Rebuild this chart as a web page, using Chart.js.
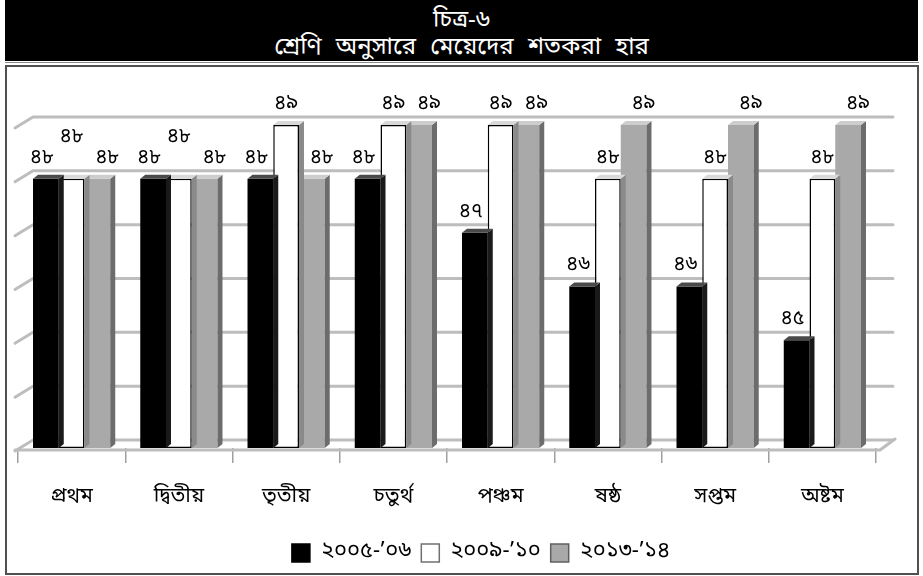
<!DOCTYPE html>
<html>
<head>
<meta charset="utf-8">
<title>চিত্র-৬</title>
<script src="https://cdn.jsdelivr.net/npm/chart.js@4/dist/chart.umd.min.js"></script>
<style>
  html, body { margin: 0; padding: 0; background: #fff; }
  #wrap { position: relative; width: 923px; height: 576px; overflow: hidden;
          font-family: "Noto Sans Bengali", "Noto Serif Bengali", "Lohit Bengali", "FreeSerif", "Noto Sans", sans-serif; }
  #head { position: absolute; left: 5px; top: 0; width: 913px; height: 61px; background: #000; color: #fff; text-align: center; }
  #head div { position: absolute; left: 0; right: 0; font-size: 24px; line-height: 28px; }
  #head .t1 { top: 7px; }
  #head .t2 { top: 34px; word-spacing: 8px; }
  #rule { position: absolute; left: 5px; top: 62px; width: 914px; height: 1px; background: #8a8a8a; }
  #box { position: absolute; left: 5px; top: 65px; width: 914px; height: 510px; box-sizing: border-box; border: 2px solid #505050; }
  #chart { position: absolute; left: 0; top: 0; }
</style>
</head>
<body>
<div id="wrap">
  <div id="head">
    <div class="t1">চিত্র-৬</div>
    <div class="t2">শ্রেণি অনুসারে মেয়েদের শতকরা হার</div>
  </div>
  <div id="rule"></div>
  <div id="box"></div>
  <canvas id="chart" width="923" height="576"></canvas>
</div>
<script>
// Classes (x categories)
const categories = ['প্রথম', 'দ্বিতীয়', 'তৃতীয়', 'চতুর্থ', 'পঞ্চম', 'ষষ্ঠ', 'সপ্তম', 'অষ্টম'];
// Survey years
const seriesNames = ['২০০৫-’০৬', '২০০৯-’১০', '২০১৩-’১৪'];
// Share of girls (%) per class
const values2005 = [48, 48, 48, 48, 47, 46, 46, 45];
const values2009 = [48, 48, 49, 49, 49, 48, 48, 48];
const values2013 = [48, 48, 48, 49, 49, 49, 49, 49];
// Value axis range
const axisMin = 43;
const axisMax = 49;

const FONT = '"Noto Sans Bengali", "Noto Serif Bengali", "Lohit Bengali", "FreeSerif", "Noto Sans", sans-serif';
const BN_DIGITS = '০১২৩৪৫৬৭৮৯';
const toBn = v => String(v).replace(/[0-9]/g, d => BN_DIGITS[+d]);

// Colours of the front, top and side faces of each series' columns
const faceStyles = [
  { front: '#000000', top: '#4a4a4a', side: '#1a1a1a' },
  { front: '#ffffff', top: '#d9d9d9', side: '#8a8a8a' },
  { front: '#a9a9a9', top: '#cdcdcd', side: '#6c6c6c' }
];
const DX = 5, DY = 4;

// Back wall, left wall and floor of the pseudo-3D plot box
const wallPlugin = {
  id: 'wall',
  beforeDatasetsDraw(chart) {
    const { ctx, chartArea: { left, right, bottom }, scales: { y } } = chart;
    const values = [];
    for (let v = y.min; v <= y.max; v += 1) values.push(v);
    ctx.save();
    ctx.lineCap = 'round';
    ctx.lineJoin = 'round';
    ctx.strokeStyle = '#bdbdbd';
    ctx.lineWidth = 3;
    values.forEach(v => {
      const py = y.getPixelForValue(v);
      ctx.beginPath();
      ctx.moveTo(left - 3, py + 3);
      ctx.lineTo(left + 15, py - 8);
      ctx.lineTo(right + 17, py - 8);
      ctx.stroke();
    });
    const fy = bottom + 2;
    ctx.beginPath();
    ctx.moveTo(left - 3, fy);
    ctx.lineTo(right + 4, fy);
    ctx.lineTo(right + 19, fy - 11);
    ctx.stroke();
    ctx.restore();
  }
};

// Top and side faces drawn after each series so the next one overlaps them
const columnFacesPlugin = {
  id: 'columnFaces',
  afterDatasetDraw(chart, args) {
    const ctx = chart.ctx;
    const st = faceStyles[args.index];
    const floor = chart.chartArea.bottom;
    const poly = pts => {
      ctx.beginPath();
      ctx.moveTo(pts[0][0], pts[0][1]);
      for (let k = 1; k < pts.length; k++) ctx.lineTo(pts[k][0], pts[k][1]);
      ctx.closePath();
      ctx.fill();
    };
    ctx.save();
    args.meta.data.forEach(bar => {
      const l = bar.x - bar.width / 2, r = bar.x + bar.width / 2, t = bar.y;
      const b = Math.min(bar.base, floor);
      ctx.fillStyle = st.side;
      poly([[r, t], [r + DX, t - DY], [r + DX, b - DY], [r, b]]);
      ctx.fillStyle = st.top;
      poly([[l, t], [r, t], [r + DX, t - DY], [l + DX, t - DY]]);
    });
    ctx.restore();
  }
};

// Value labels above the columns
const valueLabelPlugin = {
  id: 'valueLabels',
  afterDatasetsDraw(chart) {
    const ctx = chart.ctx;
    ctx.save();
    ctx.font = '20px ' + FONT;
    ctx.fillStyle = '#000';
    ctx.textAlign = 'center';
    ctx.textBaseline = 'middle';
    const sets = chart.data.datasets;
    sets.forEach((ds, i) => {
      chart.getDatasetMeta(i).data.forEach((bar, j) => {
        let x = bar.x;
        let y = bar.y - 20;
        if (i === 0) x -= 4;
        if (i === 2) x += 10;
        if (i === 1 && ds.data[j] === sets[0].data[j]) y -= 21;
        ctx.fillText(toBn(ds.data[j]), x, y);
      });
    });
    ctx.restore();
  }
};

// Legend sits a little right of the plot centre
const legendShiftPlugin = {
  id: 'legendShift',
  afterLayout(chart) {
    chart.legend.left += 34;
    chart.legend.right += 34;
  }
};

Chart.defaults.font.family = FONT;

new Chart(document.getElementById('chart'), {
  type: 'bar',
  data: {
    labels: categories,
    datasets: [
      { label: seriesNames[0], data: values2005, backgroundColor: faceStyles[0].front, borderWidth: 0 },
      { label: seriesNames[1], data: values2009, backgroundColor: faceStyles[1].front, borderColor: '#000', borderWidth: 1.5, borderSkipped: false },
      { label: seriesNames[2], data: values2013, backgroundColor: faceStyles[2].front, borderWidth: 0 }
    ]
  },
  options: {
    responsive: false,
    animation: false,
    events: [],
    layout: { padding: { left: 18, right: 47, top: 125, bottom: 2 } },
    datasets: { bar: { categoryPercentage: 0.72, barPercentage: 1.0, base: axisMin } },
    scales: {
      y: { display: false, min: axisMin, max: axisMax },
      x: {
        grid: { offset: true, drawOnChartArea: false, drawTicks: true, tickLength: 15, color: '#a0a0a0', lineWidth: 1.5 },
        border: { display: false },
        ticks: { color: '#000', font: { size: 21 }, padding: 22, maxRotation: 0, autoSkip: false },
        afterFit(scale) { scale.height = 84; }
      }
    },
    plugins: {
      legend: {
        position: 'bottom',
        labels: {
          boxWidth: 18, boxHeight: 18, padding: 10, color: '#000', font: { size: 22 },
          generateLabels(chart) {
            const strokes = ['#000', '#707070', '#606060'];
            return chart.data.datasets.map((ds, i) => ({
              text: ds.label, fillStyle: faceStyles[i].front, strokeStyle: strokes[i],
              lineWidth: 1.5, hidden: false, datasetIndex: i, fontColor: '#000'
            }));
          }
        }
      },
      tooltip: { enabled: false }
    }
  },
  plugins: [wallPlugin, columnFacesPlugin, valueLabelPlugin, legendShiftPlugin]
});
</script>
</body>
</html>
